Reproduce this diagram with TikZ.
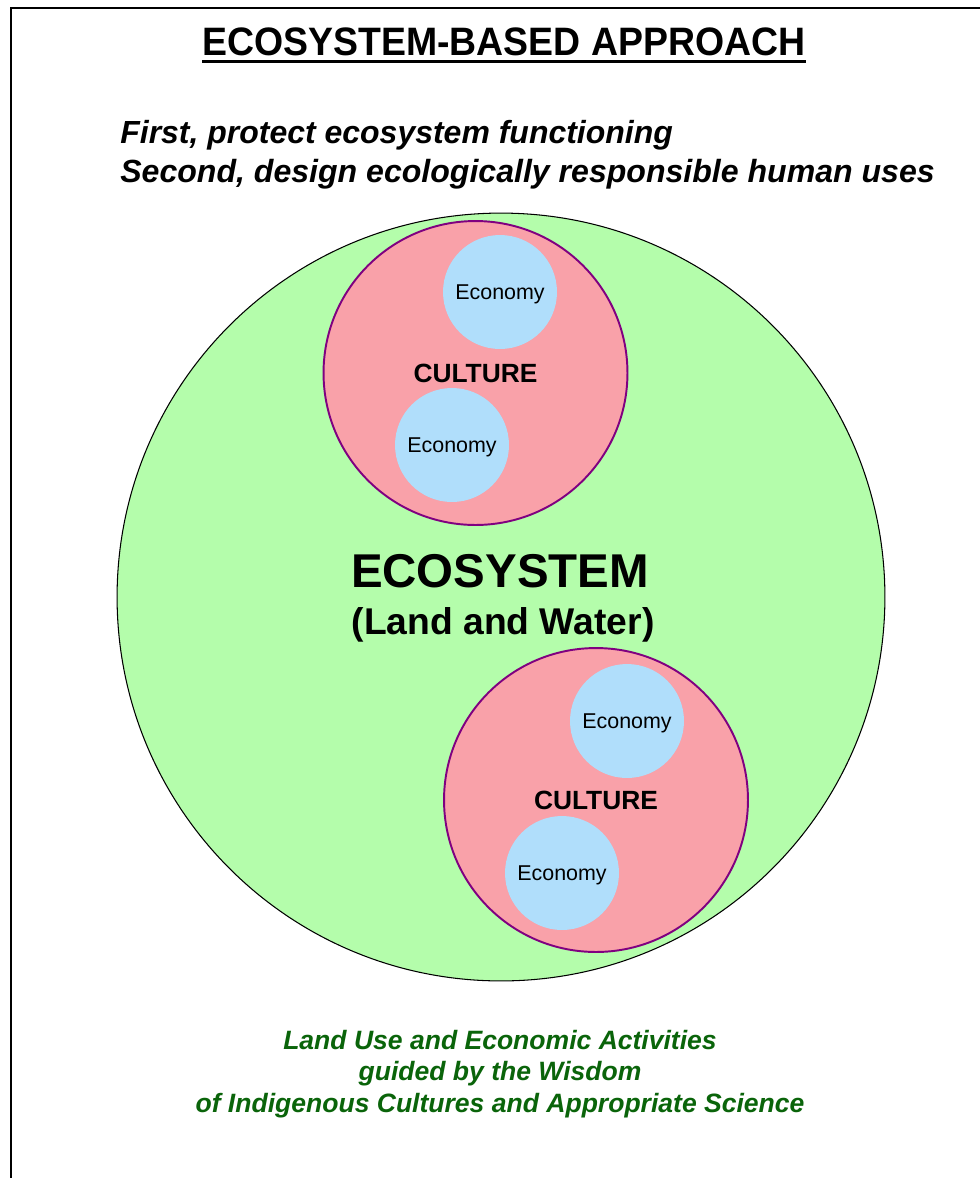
\documentclass[tikz,border=0pt]{standalone}
\usepackage{fontspec}
\setmainfont{Liberation Sans}
\usetikzlibrary{calc}
\definecolor{ecogreen}{RGB}{180,253,171}
\definecolor{culpink}{RGB}{249,161,169}
\definecolor{econblue}{RGB}{176,222,251}
\definecolor{culedge}{RGB}{128,0,128}
\definecolor{notegreen}{RGB}{10,100,10}

\begin{document}
\begin{tikzpicture}[x=0.02cm,y=-0.02cm,
  culture/.style={circle,draw=culedge,line width=1.1pt,fill=culpink,minimum size=6.08cm,inner sep=0pt,
    font=\bfseries\fontsize{15}{17}\selectfont},
  econ/.style={circle,fill=econblue,minimum size=2.28cm,inner sep=0pt,text depth=0pt,
    font=\fontsize{12.2}{14}\selectfont},
  label/.style={anchor=base,inner sep=0pt}]
\useasboundingbox (0,0) rectangle (980,1178);
\draw[line width=1.4pt] (11,1178) -- (11,8) -- (980,8);

% heading
\node[label,font=\bfseries\fontsize{21.3}{24}\selectfont,yscale=1.06] (title) at (504,55) {ECOSYSTEM-BASED APPROACH};
\draw[line width=1.7pt] ($(title.base west)+(0,6)$) -- ($(title.base east)+(0,6)$);
\node[label,anchor=base west,font=\bfseries\itshape\fontsize{18.2}{20}\selectfont] (first) at (120,143) {First, protect ecosystem functioning};
\node[label,anchor=base west,font=\bfseries\itshape\fontsize{18.25}{20}\selectfont] (second) at (120,182) {Second, design ecologically responsible human uses};

% circles
\node[circle,draw,line width=0.6pt,fill=ecogreen,minimum size=15.36cm,inner sep=0pt] (eco) at (501,597) {};
\node[culture] (cultA) at (475.5,373) {CULTURE};
\node[culture] (cultB) at (596,800) {CULTURE};
\foreach \x/\y [count=\i] in {500/292,452/445,627/721,562/873}
  \node[econ] (econ\i) at (\x,\y) {Economy};

\node[label,font=\bfseries\fontsize{27}{30}\selectfont] (ecolabel) at (500,587) {ECOSYSTEM};
\node[label,font=\bfseries\fontsize{21.2}{24}\selectfont] (landwater) at (503,634) {(Land and Water)};

% note
\node[align=center,inner sep=0pt,text=notegreen,font=\bfseries\itshape\fontsize{15.1}{17.9}\selectfont] (note) at (500,1074)
  {Land Use and Economic Activities\\guided by the Wisdom\\of Indigenous Cultures and Appropriate Science};
\end{tikzpicture}
\end{document}
